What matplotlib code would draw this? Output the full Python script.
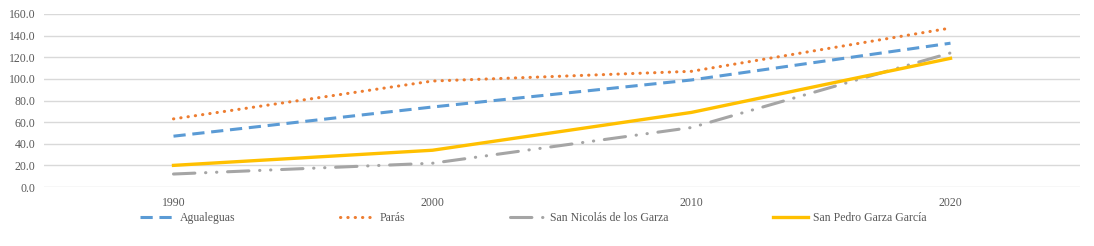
import numpy as np
import matplotlib.pyplot as plt

plt.rcParams['font.family'] = ['Liberation Serif', 'DejaVu Serif']

# Datos
years = ['1990', '2000', '2010', '2020']
agualeguas = [47, 74, 99, 133]
paras = [63, 98, 107, 147]
san_nicolas = [12, 22, 55, 124]
san_pedro = [20, 34, 69, 119]

fig = plt.figure(figsize=(10.94, 2.46), dpi=100)
ax = fig.add_axes([44 / 1094, 1 - 187 / 246, (1080 - 44) / 1094, (187 - 14) / 246])

x = np.arange(len(years))
ax.plot(x, agualeguas, color='#5B9BD5', lw=2.2, dashes=(4, 2.2), label='Agualeguas')
ax.plot(x, paras, color='#ED7D31', lw=2.2, dashes=(0.1, 2.3), dash_capstyle='round', label='Parás')
ax.plot(x, san_nicolas, color='#A5A5A5', lw=2.2, dashes=(7, 3.5, 0.1, 3.5, 0.1, 3.5),
        dash_capstyle='round', label='San Nicolás de los Garza')
ax.plot(x, san_pedro, color='#FFC000', lw=2.4, label='San Pedro Garza García')

ax.set_xlim(-0.5, 3.5)
ax.set_ylim(0, 160)
ax.set_yticks(np.arange(0, 161, 20))
ax.set_yticklabels([f'{v:.1f}' for v in np.arange(0, 161, 20)])
ax.set_xticks(x)
ax.set_xticklabels(years)
ax.grid(axis='y', color='#D9D9D9', lw=1)
ax.set_axisbelow(True)
for s in ax.spines.values():
    s.set_visible(False)
ax.tick_params(axis='x', length=0, labelsize=8.5, colors='#595959', pad=7)
ax.tick_params(axis='y', length=0, labelsize=8.5, colors='#595959', pad=6)

fig.legend(loc='center left', bbox_to_anchor=(140 / 1094, 1 - 218 / 246), ncol=4, frameon=False,
           fontsize=8.5, labelcolor='#595959', handlelength=2.9, handletextpad=0.45,
           columnspacing=8.9, borderaxespad=0, borderpad=0)

fig.savefig('out.png', dpi=100)
